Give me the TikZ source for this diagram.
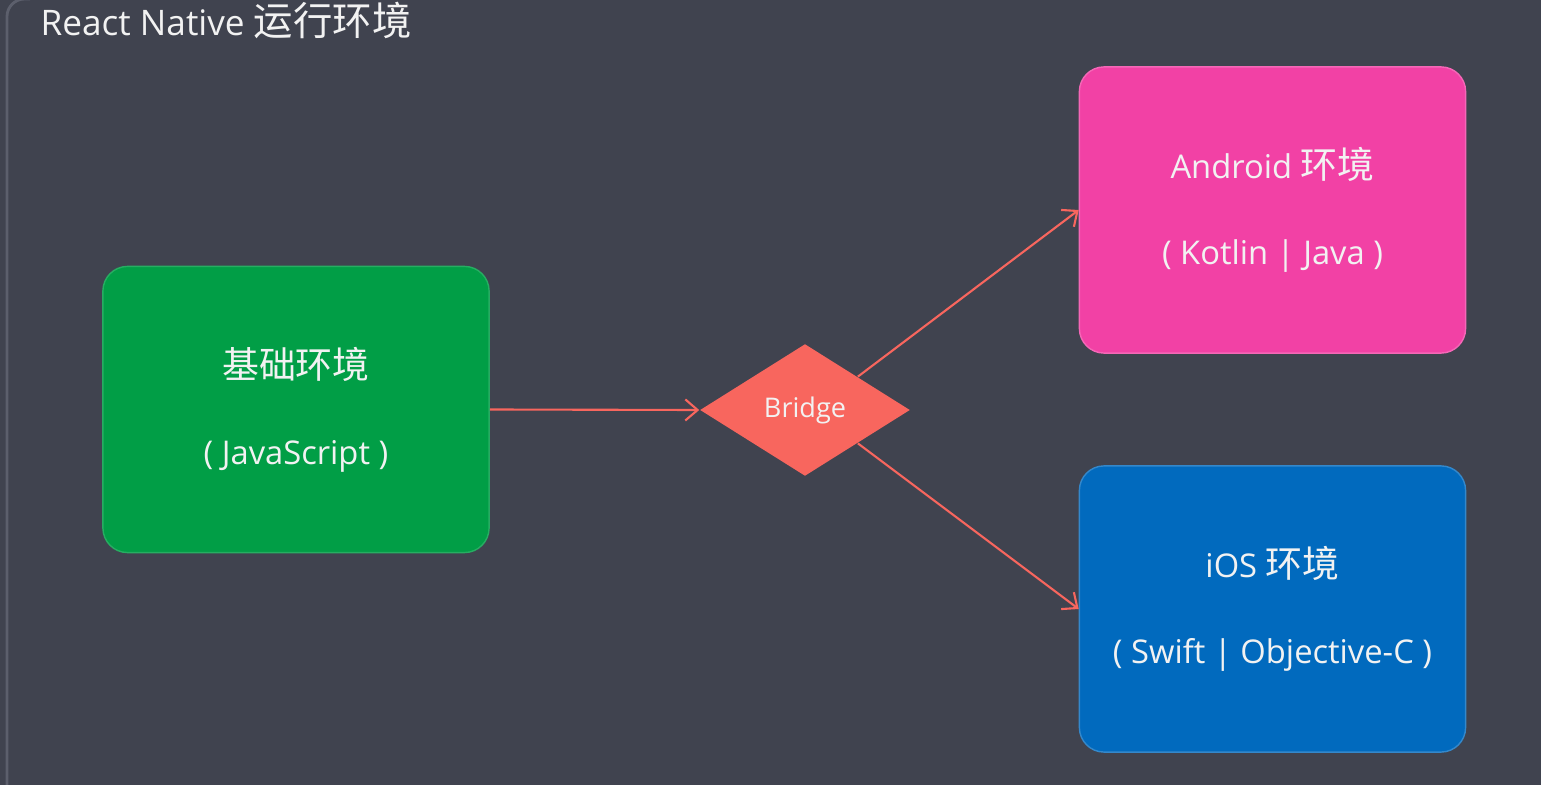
\documentclass[tikz,border=0pt]{standalone}
\usepackage{fontspec}
\setmainfont{Open Sans}
\newfontfamily\cjk{Noto Sans CJK SC}
\usetikzlibrary{shapes.geometric,arrows.meta}

\definecolor{bgdark}{RGB}{64,67,79}
\definecolor{bgedge}{RGB}{92,95,108}
\definecolor{jsgreen}{RGB}{1,158,70}
\definecolor{droidpink}{RGB}{242,65,165}
\definecolor{iosblue}{RGB}{1,106,190}
\definecolor{bridgered}{RGB}{248,102,94}
\definecolor{txtwhite}{RGB}{242,242,242}

\newcommand{\zh}[1]{{\cjk\fontsize{10.5pt}{12pt}\selectfont #1}}

\begin{document}
\begin{tikzpicture}[x=0.01cm, y=-0.01cm,
    envbox/.style={rounded corners=7pt, minimum width=3.86cm, minimum height=2.86cm,
        text=txtwhite, align=center, font=\fontsize{9.3pt}{11pt}\selectfont},
    bridgenode/.style={diamond, fill=bridgered, minimum width=2.1cm, minimum height=1.32cm,
        inner sep=0pt, text=txtwhite, font=\fontsize{7.7pt}{9pt}\selectfont},
    link/.style={draw=bridgered, line width=0.6pt, -{Straight Barb[length=3.5pt, width=6pt]}}]
    \useasboundingbox (0,0) rectangle (1541,785);
    \fill[bgdark] (0,0) rectangle (1541,785);
    \draw[bgedge, line width=0.8pt, rounded corners=5pt] (7,790) -- (7,-1) -- (30,-1);

    % Title
    \node[anchor=base west, text=txtwhite, font=\fontsize{10pt}{12pt}\selectfont, inner sep=0pt]
        (title) at (40,36) {React Native {\cjk\fontsize{11.2pt}{12pt}\selectfont 运行环境}};

    % Environments
    \node[envbox, fill=jsgreen, draw=jsgreen!85!white] (js) at (296,409.5)
        {\zh{基础环境}\\[13.5pt]( JavaScript )};
    \node[envbox, fill=droidpink, draw=droidpink!80!white] (droid) at (1272.5,210)
        {Android \zh{环境}\\[13.5pt]( Kotlin | Java )};
    \node[envbox, fill=iosblue, draw=iosblue!80!white] (ios) at (1272.5,609)
        {iOS \zh{环境}\\[13.5pt]( Swift | Objective-C )};

    % Bridge
    \node[bridgenode] (bridge) at (805,410) {Bridge};

    \draw[link] (js.east) -- (bridge.west);
    \draw[link] (bridge.north east) -- (droid.west);
    \draw[link] (bridge.south east) -- (ios.west);
\end{tikzpicture}
\end{document}
